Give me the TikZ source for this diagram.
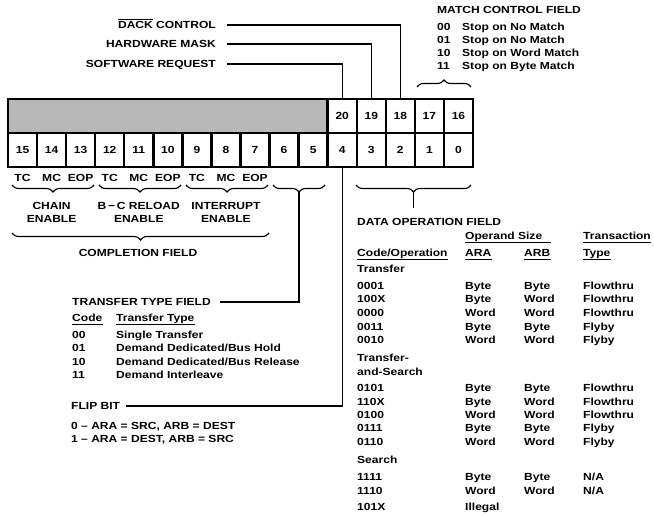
\documentclass[tikz,border=0pt]{standalone}
\usepackage{fontspec}
\setmainfont{Liberation Sans}[FakeStretch=1.17]
\usetikzlibrary{decorations.pathreplacing}
\newcommand\bitx[1]{8+(15.5-#1)*29.0625}
\newcommand\ovlword[1]{{\setbox0\hbox{#1}\rlap{\raisebox{9.2pt}{\rule{\wd0}{0.8pt}}}\box0}}
\begin{document}
\begin{tikzpicture}[x=1pt,y=-1pt,
  lbl/.style={inner sep=0pt, text height=7.4pt, text depth=0pt, font=\bfseries\fontsize{10.3}{12}\selectfont},
  cell/.style={draw, line width=2.4pt, outer sep=0pt, minimum width=29.0625pt, minimum height=34pt, inner sep=0pt, text height=7.4pt, text depth=0pt, font=\bfseries\fontsize{10.3}{12}\selectfont},
  conn/.style={line width=1.2pt},
  brc/.style={decorate, decoration={brace, amplitude=7pt}, line width=1.1pt},
  ul/.style={line width=0.9pt}]
\useasboundingbox (0,0) rectangle (654,516);

% register
\node[cell, fill=black!28, minimum width=319.6875pt, anchor=north west] (shade) at (8,99) {};
\foreach \b in {0,...,15} \node[cell] (b\b) at ({\bitx{\b}},150) {\b};
\foreach \b in {16,...,20} \node[cell] (t\b) at ({\bitx{(\b-16)}},116) {\b};

% match control field
\node[lbl, anchor=west] (mcf) at (437,10) {MATCH CONTROL FIELD};
\foreach \yy/\c/\t in {27/00/Stop on No Match, 40/01/Stop on No Match, 53/10/Stop on Word Match, 66/11/Stop on Byte Match}{
  \node[lbl, anchor=west] (mc\yy) at (437,\yy) {\c};
  \node[lbl, anchor=west] (mt\yy) at (462,\yy) {\t};
}
\draw[brc] (417,87) -- (471,87);

% top labels
\node[lbl, anchor=east] (dack) at (216,25) {\ovlword{DACK} CONTROL};
\node[lbl, anchor=east] (hwm) at (216,44) {HARDWARE MASK};
\node[lbl, anchor=east] (swr) at (216,64) {SOFTWARE REQUEST};
\draw[conn, shorten <=11pt] (dack.east) -| (t18.north);
\draw[conn, shorten <=11pt] (hwm.east) -| (t19.north);
\draw[conn, shorten <=11pt] (swr.east) -| (t20.north);

% completion labels
\foreach \b/\t in {15/TC,14/MC,13/EOP,12/TC,11/MC,10/EOP,9/TC,8/MC,7/EOP}
  \node[lbl] (l\b) at ({\bitx{\b}},178) {\t};
\draw[brc] (94,185) -- (12,185);
\draw[brc] (181,185) -- (99,185);
\draw[brc] (268,185) -- (186,185);
\draw[brc] (325,185) -- (273,185);
\draw[brc] (471,185) -- (356,185);
\node[lbl] (ch1) at ({\bitx{14}},206) {CHAIN};
\node[lbl] (ch2) at ({\bitx{14}},219) {ENABLE};
\node[lbl] (bc1) at ({\bitx{11}},206) {B\,−\,C RELOAD};
\node[lbl] (bc2) at ({\bitx{11}},219) {ENABLE};
\node[lbl] (in1) at ({\bitx{8}},206) {INTERRUPT};
\node[lbl] (in2) at ({\bitx{8}},219) {ENABLE};
\draw[brc] (269,233) -- (12,233);
\node[lbl] (cf) at (138,253) {COMPLETION FIELD};

\coordinate (tip65) at (299,192);
\coordinate (tipd) at (413.5,192);
\coordinate (tipdend) at (413.5,208);
\draw[conn] (tipd) -- (tipdend);

% transfer type field
\node[lbl, anchor=west] (ttf) at (72,302) {TRANSFER TYPE FIELD};
\draw[conn, shorten <=9pt] (ttf.east) -| (tip65);
\node[lbl, anchor=west] (tcode) at (72,318) {Code};
\node[lbl, anchor=west] (ttype) at (116,318) {Transfer Type};
\draw[ul] ([yshift=-3pt]tcode.south west) -- ([yshift=-3pt]tcode.south east);
\draw[ul] ([yshift=-3pt]ttype.south west) -- ([yshift=-3pt]ttype.south east);
\foreach \yy/\c/\t in {335/00/{Single Transfer}, 348/01/{Demand Dedicated/Bus Hold}, 362/10/{Demand Dedicated/Bus Release}, 375/11/{Demand Interleave}}{
  \node[lbl, anchor=west] (tc\yy) at (72,\yy) {\c};
  \node[lbl, anchor=west] (tt\yy) at (116,\yy) {\t};
}

% flip bit
\node[lbl, anchor=west] (flip) at (71,406) {FLIP BIT};
\draw[conn, shorten <=6pt] (flip.east) -| (b4.south);
\node[lbl, anchor=west] (f0) at (71,426) {0 – ARA = SRC, ARB = DEST};
\node[lbl, anchor=west] (f1) at (71,439) {1 – ARA = DEST, ARB = SRC};

% data operation field
\node[lbl, anchor=west] (dof) at (357,222) {DATA OPERATION FIELD};
\node[lbl, anchor=west] (opsz) at (465,236) {Operand Size};
\node[lbl, anchor=west] (trn) at (583,236) {Transaction};
\node[lbl, anchor=west] (cop) at (357,253) {Code/Operation};
\node[lbl, anchor=west] (arah) at (465,253) {ARA};
\node[lbl, anchor=west] (arbh) at (524,253) {ARB};
\node[lbl, anchor=west] (typh) at (583,253) {Type};
\draw[ul] ([yshift=-3pt]opsz.south west) -- ([yshift=-3pt]opsz.south west -| arbh.east);
\draw[ul] ([yshift=-3pt]trn.south west) -- ([yshift=-3pt]trn.south east);
\draw[ul] ([yshift=-3pt]cop.south west) -- ([yshift=-3pt]cop.south east);
\draw[ul] ([yshift=-3pt]arah.south west) -- ([yshift=-3pt]arah.south east);
\draw[ul] ([yshift=-3pt]arbh.south west) -- ([yshift=-3pt]arbh.south east);
\draw[ul] ([yshift=-3pt]typh.south west) -- ([yshift=-3pt]typh.south east);
\node[lbl, anchor=west] (gtr) at (357,269) {Transfer};
\node[lbl, anchor=west] (gts1) at (357,358) {Transfer-};
\node[lbl, anchor=west] (gts2) at (357,372) {and-Search};
\node[lbl, anchor=west] (gse) at (357,460) {Search};
\foreach \yy/\c/\a/\bb/\t in {286/0001/Byte/Byte/Flowthru, 299/100X/Byte/Word/Flowthru, 313/0000/Word/Word/Flowthru, 327/0011/Byte/Byte/Flyby, 340/0010/Word/Word/Flyby,
  388/0101/Byte/Byte/Flowthru, 402/110X/Byte/Word/Flowthru, 415/0100/Word/Word/Flowthru, 428/0111/Byte/Byte/Flyby, 442/0110/Word/Word/Flyby,
  477/1111/Byte/Byte/{N/A}, 491/1110/Word/Word/{N/A}}{
  \node[lbl, anchor=west] (dc\yy) at (357,\yy) {\c};
  \node[lbl, anchor=west] (da\yy) at (465,\yy) {\a};
  \node[lbl, anchor=west] (db\yy) at (524,\yy) {\bb};
  \node[lbl, anchor=west] (dt\yy) at (583,\yy) {\t};
}
\node[lbl, anchor=west] (dc507) at (357,507) {101X};
\node[lbl, anchor=west] (da507) at (465,507) {Illegal};
\end{tikzpicture}
\end{document}
